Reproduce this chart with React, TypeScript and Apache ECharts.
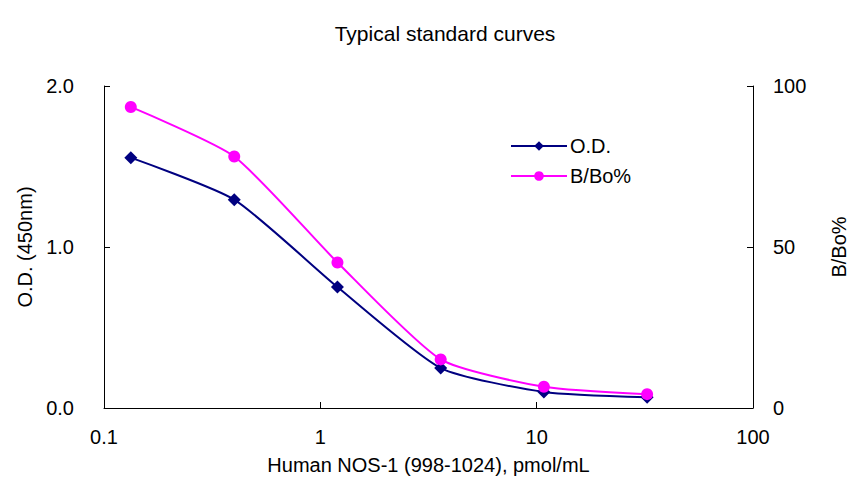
import React, { useEffect, useRef } from "react";
import * as echarts from "echarts";

const titleText = "Typical standard curves";
const xAxisName = "Human NOS-1 (998-1024), pmol/mL";
const leftAxisName = "O.D. (450nm)";
const rightAxisName = "B/Bo%";

const concentrations = [0.133, 0.4, 1.2, 3.6, 10.8, 32.4];
const odValues = [1.555, 1.294, 0.751, 0.248, 0.1, 0.067];
const bBoValues = [93.5, 78.1, 45.2, 15.1, 6.6, 4.3];

const odName = "O.D.";
const bBoName = "B/Bo%";

const FONT = "'Liberation Sans', Arial, sans-serif";

export default function App() {
  const ref = useRef<HTMLDivElement>(null);

  useEffect(() => {
    if (!ref.current) return;
    const chart = echarts.init(ref.current, undefined, { renderer: "svg" });
    const axisLine = { show: true, lineStyle: { color: "#000", width: 1 } };
    const axisTick = { show: true, inside: true, length: 6, lineStyle: { color: "#000" } };
    chart.setOption({
      animation: false,
      backgroundColor: "#fff",
      textStyle: { fontFamily: FONT },
      title: {
        text: titleText,
        left: 440,
        top: 18,
        textAlign: "center",
        textStyle: { fontFamily: FONT, fontSize: 21, fontWeight: "normal", color: "#000" },
      },
      grid: {
        left: 104,
        right: 97,
        top: 86,
        bottom: 81,
        containLabel: false,
        outerBoundsMode: "none",
      },
      legend: {
        orient: "vertical",
        left: 505,
        top: 131,
        itemWidth: 56,
        itemHeight: 12,
        itemGap: 10,
        textStyle: { fontFamily: FONT, fontSize: 20, color: "#000", padding: [0, 0, 0, -2] },
        data: [odName, bBoName],
      },
      xAxis: {
        type: "log",
        logBase: 10,
        min: 0.1,
        max: 100,
        name: xAxisName,
        nameLocation: "middle",
        nameGap: 47,
        nameTextStyle: { fontFamily: FONT, fontSize: 20, color: "#000" },
        axisLine,
        axisTick,
        minorTick: { show: false },
        splitLine: { show: false },
        axisLabel: {
          fontFamily: FONT,
          fontSize: 20,
          color: "#000",
          margin: 19,
          formatter: (v: number) => String(v),
        },
      },
      yAxis: [
        {
          type: "value",
          min: 0,
          max: 2,
          interval: 1,
          position: "left",
          name: leftAxisName,
          nameLocation: "middle",
          nameGap: 68,
          nameTextStyle: { fontFamily: FONT, fontSize: 20, color: "#000" },
          axisLine,
          axisTick,
          splitLine: { show: false },
          axisLabel: {
            fontFamily: FONT,
            fontSize: 20,
            color: "#000",
            margin: 30,
            formatter: (v: number) => v.toFixed(1),
          },
        },
        {
          type: "value",
          min: 0,
          max: 100,
          interval: 50,
          position: "right",
          name: rightAxisName,
          nameLocation: "middle",
          nameGap: 76,
          nameRotate: 90,
          nameTextStyle: { fontFamily: FONT, fontSize: 20, color: "#000" },
          axisLine,
          axisTick,
          splitLine: { show: false },
          axisLabel: { fontFamily: FONT, fontSize: 20, color: "#000", margin: 20 },
        },
      ],
      series: [
        {
          name: odName,
          type: "line",
          yAxisIndex: 0,
          data: concentrations.map((c, i) => [c, odValues[i]]),
          smooth: 0.2,
          symbol: "diamond",
          symbolSize: 13,
          lineStyle: { color: "#000080", width: 2 },
          itemStyle: { color: "#000080" },
        },
        {
          name: bBoName,
          type: "line",
          yAxisIndex: 1,
          data: concentrations.map((c, i) => [c, bBoValues[i]]),
          smooth: 0.2,
          symbol: "circle",
          symbolSize: 12,
          lineStyle: { color: "#FF00FF", width: 2 },
          itemStyle: { color: "#FF00FF" },
        },
      ],
    });
    return () => chart.dispose();
  }, []);

  return (
    <div
      ref={ref}
      style={{ position: "absolute", left: 0, top: 0, width: 850, height: 489 }}
    />
  );
}
